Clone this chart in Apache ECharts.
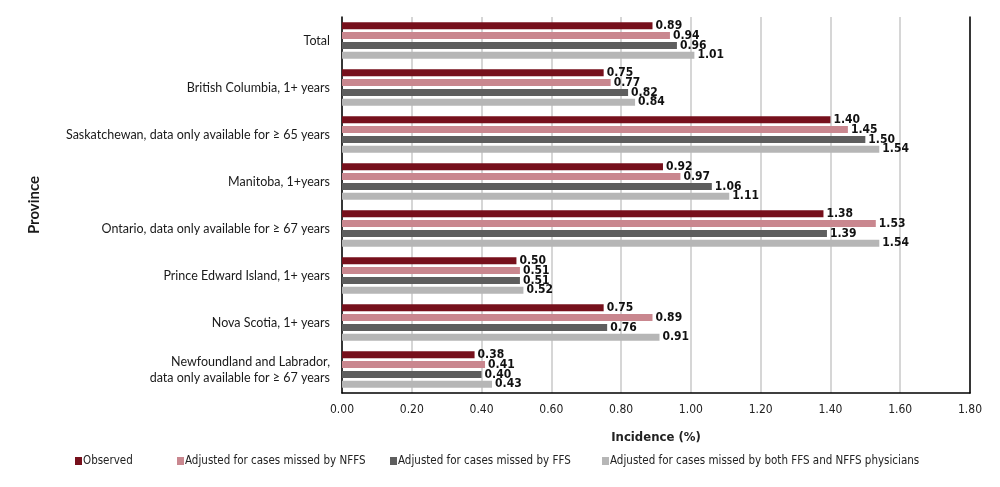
<!DOCTYPE html>
<html><head><meta charset="utf-8">
<script src="https://cdn.jsdelivr.net/npm/echarts@6/dist/echarts.min.js"></script>
<style>html,body{margin:0;padding:0;background:#fff}#c{width:1000px;height:487px}</style>
</head><body><div id="c"></div>
<script>
const categories = [
  'Total',
  'British Columbia, 1+ years',
  'Saskatchewan, data only available for \u2265 65 years',
  'Manitoba, 1+years',
  'Ontario, data only available for \u2265 67 years',
  'Prince Edward Island, 1+ years',
  'Nova Scotia, 1+ years',
  'Newfoundland and Labrador,\ndata only available for \u2265 67 years'
];
const seriesNames = [
  'Observed',
  'Adjusted for cases missed by NFFS',
  'Adjusted for cases missed by FFS',
  'Adjusted for cases missed by both FFS and NFFS physicians'
];
const observed = [0.89, 0.75, 1.40, 0.92, 1.38, 0.50, 0.75, 0.38];
const adjNFFS  = [0.94, 0.77, 1.45, 0.97, 1.53, 0.51, 0.89, 0.41];
const adjFFS   = [0.96, 0.82, 1.50, 1.06, 1.39, 0.51, 0.76, 0.40];
const adjBoth  = [1.01, 0.84, 1.54, 1.11, 1.54, 0.52, 0.91, 0.43];
const colors = ['#76101c', '#c9878f', '#5e5e5e', '#b6b6b6'];
const legendLefts = [70, 172, 385, 597];

const narrow = '"DejaVu Sans Condensed", "Liberation Sans Narrow", sans-serif';
const values = [observed, adjNFFS, adjFFS, adjBoth];

const chart = echarts.init(document.getElementById('c'));
chart.setOption({
  animation: false,
  color: colors,
  grid: { left: 342, right: 30, top: 17, bottom: 94 },
  legend: seriesNames.map((n, i) => ({
    data: [n], left: legendLefts[i], top: 450, icon: 'rect',
    itemWidth: 7, itemHeight: 8, itemGap: 0,
    textStyle: { fontFamily: narrow, fontSize: 11.5, color: '#222', padding: [0, 0, 0, -4] }
  })),
  xAxis: {
    type: 'value', min: 0, max: 1.8, interval: 0.2,
    name: 'Incidence (%)', nameLocation: 'middle', nameGap: 38,
    nameTextStyle: { fontFamily: narrow, fontSize: 13, fontWeight: 'bold', color: '#222' },
    axisLine: { show: true, lineStyle: { color: '#000', width: 1.5 } },
    axisTick: { show: false },
    axisLabel: { formatter: v => v.toFixed(2), fontFamily: narrow, fontSize: 12, color: '#222', margin: 11 },
    splitLine: { show: true, lineStyle: { color: '#c8c8c8', width: 1.5 } }
  },
  yAxis: [{
    type: 'category', data: categories, inverse: true,
    name: 'Province', nameLocation: 'middle', nameGap: 300, nameRotate: 90,
    nameTextStyle: { fontFamily: 'Lato, sans-serif', fontSize: 15, fontWeight: 'bold', color: '#1a1a1a' },
    axisLine: { show: true, lineStyle: { color: '#000', width: 1.5 } },
    axisTick: { show: false },
    axisLabel: { fontFamily: 'Lato, sans-serif', fontSize: 12.5, color: '#1a1a1a', margin: 12, lineHeight: 16 }
  }, {
    type: 'category', data: categories, inverse: true, position: 'right',
    axisLine: { show: true, lineStyle: { color: '#000', width: 1.5 } },
    axisTick: { show: false }, axisLabel: { show: false }
  }],
  series: values.map((arr, i) => ({
    name: seriesNames[i], type: 'bar', data: arr,
    barWidth: 7, barGap: '40%', barCategoryGap: '25%',
    label: {
      show: true, position: 'right', distance: 3,
      formatter: p => p.value.toFixed(2),
      fontFamily: narrow, fontSize: 12, fontWeight: 'bold', color: '#111'
    }
  }))
});
</script></body></html>
